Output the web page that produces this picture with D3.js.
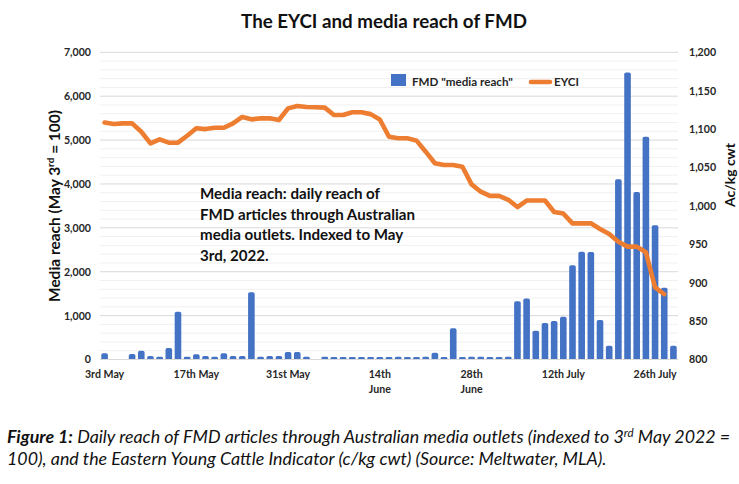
<!DOCTYPE html>
<html><head><meta charset="utf-8">
<script src="https://cdn.jsdelivr.net/npm/d3@7"></script>
<style>
body{margin:0;background:#fff;}
svg{display:block;font-family:Lato,"Open Sans",sans-serif;}
</style></head><body>
<svg id="c" width="739" height="484"></svg>
<script>
// ---------- data ----------
const startDate = "2022-05-03";
const endDate = "2022-07-28";
const tickEvery = 10;
const tickLabels = [["3rd May"],["17th May"],["31st May"],["14th","June"],["28th","June"],["12th July"],["26th July"]];
const mediaReach = [140,0,0,125,200,80,65,260,1090,60,
  120,80,60,140,80,80,1530,60,80,80,
  170,170,60,0,65,55,55,55,55,55,
  55,55,65,55,55,65,155,55,710,55,
  60,60,55,55,60,1330,1390,655,830,880,
  975,2150,2455,2450,900,315,4110,6540,3815,5075,
  3060,1635,315];
const eyci = [1108.5,1106.6,1107.5,1107.5,1096.6,1081.5,1086.7,1082.3,1082.3,1091.4,
  1101,1100,1101.8,1101.8,1107.5,1115.8,1112.7,1114,1114,1111.8,
  1127,1130,1128.8,1128.5,1128,1118.4,1118.4,1121.9,1121.9,1119.5,
  1112.5,1090,1088,1088,1085,1070.6,1055.5,1053.3,1053.3,1051,
  1028,1018.5,1013,1013,1008,998.5,1007,1007,1007,992,
  990,977.3,977.3,977.3,970,963.4,953.4,947,947,939.6,
  894,885,null];
const leftTicks = [0,1000,2000,3000,4000,5000,6000,7000];
const rightTicks = [800,850,900,950,1000,1050,1100,1150,1200];
const minorStep = 200;
const seriesNames = ['FMD "media reach"', "EYCI"];
const titleText = "The EYCI and media reach of FMD";
const annotation = ["Media reach: daily reach of","FMD articles through Australian","media outlets. Indexed to May","3rd, 2022."];

// ---------- setup ----------
const svg = d3.select("#c");
const blue = "#4472C4", orange = "#ED7D31", txt = "#262626";
const dates = d3.utcDay.range(new Date(startDate), d3.utcDay.offset(new Date(endDate),1))
  .filter(d => d.getUTCDay() !== 0 && d.getUTCDay() !== 6);
const idx = d3.range(dates.length);

const x = d3.scaleBand().domain(idx).range([100,678]).paddingInner(0.28).paddingOuter(0.14);
const yL = d3.scaleLinear().domain([0,7000]).range([359.5,52.3]);
const yR = d3.scaleLinear().domain([800,1200]).range([359.5,52.3]);
const bw = x.bandwidth();

function fit(sel, width){
  sel.style("font-size","100px");
  const len = sel.node().getComputedTextLength();
  const fs = 100*width/len;
  sel.style("font-size", fs+"px");
  return fs;
}
function addSegs(t, segs){
  segs.forEach((s,i)=>{
    const ts = t.append("tspan").text(s.t);
    if(s.b) ts.attr("font-weight","bold");
    if(s.sup){ ts.style("font-size","0.65em").attr("dy","-0.55em"); }
    else if(i>0 && segs[i-1].sup){ ts.attr("dy","0.3575em"); }
  });
}

// ---------- gridlines ----------
const grid = svg.append("g");
grid.selectAll("line.minor").data(d3.range(0,7001,minorStep).filter(v=>v%1000!==0)).join("line")
  .attr("x1",100).attr("x2",678).attr("y1",d=>yL(d)).attr("y2",d=>yL(d))
  .attr("stroke","#f0f0f0").attr("stroke-width",1);
grid.selectAll("line.major").data(leftTicks).join("line")
  .attr("x1",100).attr("x2",678).attr("y1",d=>yL(d)).attr("y2",d=>yL(d))
  .attr("stroke","#d9d9d9").attr("stroke-width",1);

// ---------- bars ----------
function barPath(x0,w,yTop,yBase){
  const h = yBase - yTop;
  if(h<=0) return "";
  const r = Math.min(1.8, h/2, w/2);
  return `M${x0},${yBase}V${yTop+r}Q${x0},${yTop} ${x0+r},${yTop}H${x0+w-r}Q${x0+w},${yTop} ${x0+w},${yTop+r}V${yBase}Z`;
}
svg.append("g").selectAll("path").data(idx).join("path")
  .attr("d", i => barPath(x(i), bw, yL(mediaReach[i]), yL(0)))
  .attr("fill", blue);

// ---------- line ----------
const line = d3.line().defined(i=>eyci[i]!=null).x(i=>x(i)+bw/2).y(i=>yR(eyci[i]));
svg.append("path").datum(idx).attr("d",line).attr("fill","none")
  .attr("stroke",orange).attr("stroke-width",4.6).attr("stroke-linejoin","round").attr("stroke-linecap","round");

// ---------- axes ----------
const gL = svg.append("g").attr("transform","translate(100,0)")
  .call(d3.axisLeft(yL).tickValues(leftTicks).tickFormat(d3.format(",")).tickSize(0).tickPadding(9));
const gR = svg.append("g").attr("transform","translate(678,0)")
  .call(d3.axisRight(yR).tickValues(rightTicks).tickFormat(d3.format(",")).tickSize(0).tickPadding(11));
[gL,gR].forEach(g=>{
  g.select(".domain").remove();
  g.selectAll("text").attr("font-family","Lato").attr("font-size",10.6).attr("font-weight","bold").attr("fill",txt);
});
const tickIdx = d3.range(0, dates.length, tickEvery);
const gX = svg.append("g").attr("transform","translate(0,359.5)")
  .call(d3.axisBottom(x).tickValues(tickIdx).tickFormat("").tickSize(0));
gX.select(".domain").attr("stroke","#d9d9d9").attr("d","M100,0H678");
gX.selectAll(".tick text").each(function(d,k){
  const t = d3.select(this).attr("y",null).attr("dy",null)
    .attr("font-family","Lato").attr("font-size",10.6).attr("font-weight","bold").attr("fill",txt);
  tickLabels[k].forEach((s,j)=>{
    t.append("tspan").attr("x",0).attr("y",18+j*15).text(s);
  });
});

// ---------- title ----------
const title = svg.append("text").attr("x",384).attr("y",27.5).attr("text-anchor","middle")
  .attr("font-weight","bold").attr("fill","#111").text(titleText);
fit(title,286);

// ---------- axis titles ----------
const lt = svg.append("text").attr("text-anchor","middle").attr("font-weight","bold").attr("fill","#111")
  .attr("transform","translate(59.5,206) rotate(-90)");
addSegs(lt,[{t:"Media reach (May 3"},{t:"rd",sup:true},{t:" = 100)"}]);
fit(lt,192);
const rt = svg.append("text").attr("text-anchor","middle").attr("font-weight","bold").attr("fill","#111")
  .attr("transform","translate(735,175) rotate(-90)").text("Ac/kg cwt");
fit(rt,64);

// ---------- legend ----------
svg.append("rect").attr("x",391).attr("y",74).attr("width",15).attr("height",12).attr("fill",blue);
const l1 = svg.append("text").attr("x",412).attr("y",86).attr("font-weight","bold").attr("fill",txt).text(seriesNames[0]);
const lfs = fit(l1,101);
svg.append("line").attr("x1",531).attr("x2",550).attr("y1",82).attr("y2",82)
  .attr("stroke",orange).attr("stroke-width",4.6).attr("stroke-linecap","round");
svg.append("text").attr("x",554).attr("y",86).attr("font-weight","bold").attr("fill",txt)
  .style("font-size",lfs+"px").text(seriesNames[1]);

// ---------- annotation ----------
const a2 = svg.append("text").attr("x",200).attr("y",219.5).attr("font-weight","bold").attr("fill","#111").text(annotation[1]);
const afs = fit(a2,215);
[0,2,3].forEach(k=>{
  svg.append("text").attr("x",200).attr("y",199+k*20.5).attr("font-weight","bold").attr("fill","#111")
    .style("font-size",afs+"px").text(annotation[k]);
});

// ---------- caption ----------
const c1 = svg.append("text").attr("x",7).attr("y",443).attr("font-style","italic").attr("fill","#111");
addSegs(c1,[{t:"Figure 1:",b:true},{t:" Daily reach of FMD articles through Australian media outlets (indexed to 3"},{t:"rd",sup:true},{t:" May 2022 ="}]);
const cfs = fit(c1,724);
svg.append("text").attr("x",7).attr("y",465).attr("font-style","italic").attr("fill","#111")
  .style("font-size",cfs+"px")
  .text("100), and the Eastern Young Cattle Indicator (c/kg cwt) (Source: Meltwater, MLA).");
</script>
</body></html>
